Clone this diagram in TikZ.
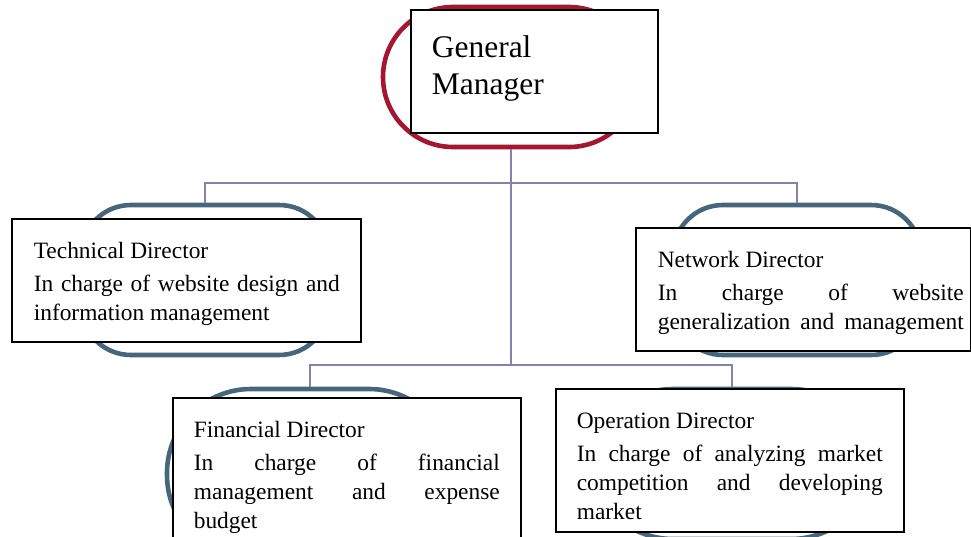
\documentclass[tikz,border=0pt]{standalone}
\usepackage{fontspec}
\setmainfont{Liberation Serif}
\definecolor{ringred}{RGB}{165,22,48}
\definecolor{ringblue}{RGB}{70,102,124}
\definecolor{linkgray}{RGB}{130,130,175}
% one entry: height, width, left padding, lines
\newcommand{\entrybox}[4]{\parbox[c][#1][t]{#2}{\parindent=0pt\leftskip=#3\relax
  \fontsize{23.4}{29}\selectfont #4}}
\newcommand{\jline}[1]{\makebox[306pt][s]{#1}}
\begin{document}
\begin{tikzpicture}[x=1pt,y=-1pt,
  ring/.style={rectangle,draw,line width=4.6pt,minimum width=#1},
  card/.style={rectangle,draw=black,fill=white,line width=1.6pt,inner sep=0pt,anchor=north west},
  conn/.style={draw=linkgray,line width=1.3pt}]
\useasboundingbox (0,0) rectangle (971,536);
\coordinate (bus1) at (0,183);
\coordinate (bus2) at (0,365);

% rounded outlines behind each card
\node[ring=256pt,draw=ringred,minimum height=140pt,rounded corners=70pt] (gmRing) at (511,77) {};
\node[ring=248pt,draw=ringblue,minimum height=150pt,rounded corners=50pt] (techRing) at (205,280) {};
\node[ring=248pt,draw=ringblue,minimum height=150pt,rounded corners=50pt] (netRing) at (797,280) {};
\node[ring=286pt,draw=ringblue,minimum height=170pt,rounded corners=84pt] (finRing) at (310,474) {};
\node[ring=286pt,draw=ringblue,minimum height=150pt,rounded corners=84pt] (opRing) at (732,464) {};

% connectors
\draw[conn] (gmRing.south) -- (gmRing.south |- bus2);
\draw[conn] (techRing.north) |- (netRing.north |- bus1) -- (netRing.north);
\draw[conn] (finRing.north) |- (opRing.north |- bus2) -- (opRing.north);

% cards
\node[card] (gm) at (410,9) {\parbox[c][123pt][t]{247pt}{\parindent=0pt\leftskip=21pt\relax
  \fontsize{31.5}{37}\selectfont\rule{0pt}{48pt}General\par Manager}};
\node[card] (tech) at (11,218) {\entrybox{123pt}{349pt}{22pt}{%
  \rule{0pt}{40pt}Technical Director\par\vspace{4pt}%
  \jline{In charge of website design and}\par
  information management}};
\node[card] (net) at (635,227) {\entrybox{123pt}{335pt}{22pt}{%
  \rule{0pt}{40pt}Network Director\par\vspace{4pt}%
  \jline{In charge of website}\par
  \jline{generalization and management}}};
\node[card] (fin) at (172,397) {\entrybox{170pt}{348pt}{21pt}{%
  \rule{0pt}{40pt}Financial Director\par\vspace{4pt}%
  \jline{In charge of financial}\par
  \jline{management and expense}\par
  budget}};
\node[card] (op) at (555,388) {\entrybox{143pt}{348pt}{21pt}{%
  \rule{0pt}{40pt}Operation Director\par\vspace{4pt}%
  \jline{In charge of analyzing market}\par
  \jline{competition and developing}\par
  market}};
\end{tikzpicture}
\end{document}
